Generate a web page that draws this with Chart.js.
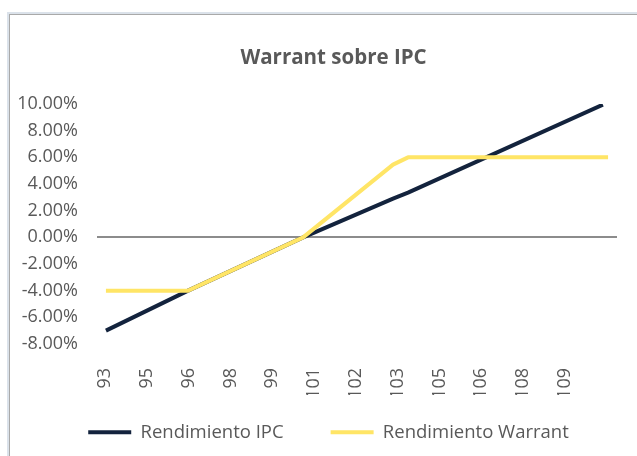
<!DOCTYPE html>
<html lang="es">
<head>
<meta charset="UTF-8" />
<title>Warrant sobre IPC</title>
<style>
  body { margin: 0; background: #fff; }
  #wrap { position: relative; width: 637px; height: 456px; overflow: hidden; }
  .frame {
    position: absolute; left: 9px; top: 14px; width: 700px; height: 500px;
    border-top: 1px solid #a9a9a9; border-left: 1px solid #a9a9a9;
    box-shadow: -1px -1px 0 1px #dbe2ea;
  }
  canvas { position: absolute; left: 0; top: 0; }
</style>
</head>
<body>
<div id="wrap">
  <div class="frame"></div>
  <canvas id="chart" width="637" height="456"></canvas>
</div>
<script src="https://cdn.jsdelivr.net/npm/chart.js"></script>
<script>
  // x positions (price level)
  const tickValues = [93.3, 94.75, 96.2, 97.65, 99.1, 100.55, 102.0, 103.45, 104.9, 106.35, 107.8, 109.25];
  const tickLabels = ['93', '95', '96', '98', '99', '101', '102', '103', '105', '106', '108', '109'];

  const ipcX = [93.33, 96.18, 100.17, 103.29, 103.81, 110.57];
  const ipcY = [-7.0, -4.0, 0.0, 2.9, 3.35, 9.95];

  const warrantX = [93.33, 96.18, 100.17, 103.29, 103.81, 110.75];
  const warrantY = [-4.0, -4.0, 0.0, 5.45, 6.0, 6.0];

  const toPoints = (xs, ys) => xs.map((x, i) => ({ x: x, y: ys[i] }));

  const textColor = '#595959';
  const font = 'Open Sans';

  // title and legend sit a bit right of centre; legend overlaps the empty lower axis band
  const nudge = {
    id: 'nudge',
    afterLayout(chart) {
      const lg = chart.legend;
      lg.top = 376;
      lg.left += 14;
      lg.right += 14;
      const tt = chart.titleBlock;
      tt.left += 19;
      tt.right += 19;
    }
  };

  new Chart(document.getElementById('chart'), {
    type: 'line',
    data: {
      datasets: [
        {
          label: 'Rendimiento IPC',
          data: toPoints(ipcX, ipcY),
          borderColor: '#13233d',
          backgroundColor: '#13233d',
          borderWidth: 4,
          pointRadius: 0,
          order: 2
        },
        {
          label: 'Rendimiento Warrant',
          data: toPoints(warrantX, warrantY),
          borderColor: '#ffe566',
          backgroundColor: '#ffe566',
          borderWidth: 4,
          pointRadius: 0,
          order: 1
        }
      ]
    },
    plugins: [nudge],
    options: {
      responsive: false,
      animation: false,
      layout: { padding: { top: 16, left: 12, right: 20, bottom: 3 } },
      elements: { line: { tension: 0, borderJoinStyle: 'round' } },
      plugins: {
        title: {
          display: true,
          text: 'Warrant sobre IPC',
          color: textColor,
          font: { family: font, size: 20.5, weight: 'bold' },
          padding: { top: 29.7, bottom: 33.7 }
        },
        legend: {
          position: 'bottom',
          maxHeight: 58,
          labels: {
            color: textColor,
            font: { family: font, size: 18.5 },
            boxWidth: 43,
            boxHeight: 4,
            padding: 47,
            sort: (a, b) => a.datasetIndex - b.datasetIndex,
            generateLabels(chart) {
              const items = Chart.defaults.plugins.legend.labels.generateLabels(chart);
              items.forEach(it => { it.lineWidth = 0; });
              return items;
            }
          }
        },
        tooltip: { enabled: false }
      },
      scales: {
        x: {
          type: 'linear',
          min: 93.02,
          max: 111.06,
          afterBuildTicks: scale => { scale.ticks = tickValues.map(v => ({ value: v })); },
          afterFit: scale => { scale.height = 51; },
          grid: { display: false },
          border: { display: false },
          ticks: {
            color: textColor,
            font: { family: font, size: 18 },
            minRotation: 90,
            maxRotation: 90,
            padding: 16,
            autoSkip: false,
            callback: (v, i) => tickLabels[i]
          }
        },
        y: {
          min: -8,
          max: 10,
          afterFit: scale => { scale.width = 85; },
          border: { display: false },
          grid: {
            drawTicks: false,
            lineWidth: 2,
            color: c => (c.tick && c.tick.value === 0 ? '#8c8c8c' : 'rgba(0,0,0,0)')
          },
          ticks: {
            stepSize: 2,
            color: textColor,
            font: { family: font, size: 18 },
            padding: 19,
            callback: v => v.toFixed(2) + '%'
          }
        }
      }
    }
  });
</script>
</body>
</html>
